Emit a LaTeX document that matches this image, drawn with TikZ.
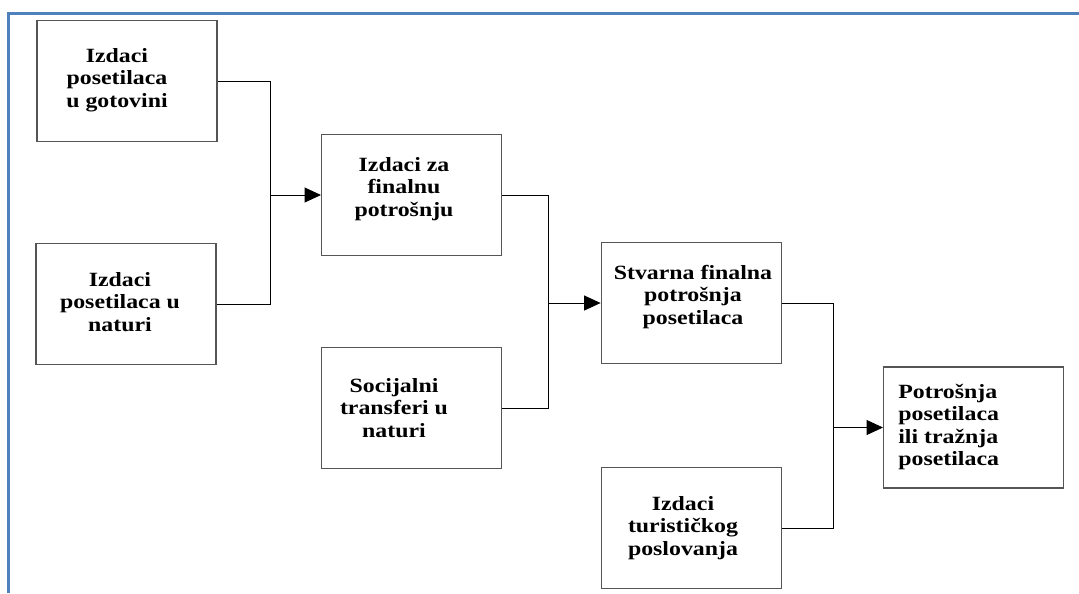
\documentclass[tikz,border=0pt]{standalone}
\usepackage{fontspec}
\setmainfont{Liberation Serif}[FakeStretch=1.18]
\usepackage{xcolor}
\usetikzlibrary{arrows.meta}

\definecolor{frameblue}{RGB}{79,129,189}
\definecolor{boxgray}{RGB}{85,85,85}

\begin{document}
\begin{tikzpicture}[x=0.02cm, y=-0.02cm,
    box/.style={draw=boxgray, line width=0.8pt, minimum width=3.6cm, minimum height=2.42cm, inner sep=0pt},
    txt/.style={font=\fontsize{11.5}{12.8}\selectfont\bfseries, align=center, inner sep=0pt},
    link/.style={line width=0.55pt},
    ]
    \useasboundingbox (0,0) rectangle (1079,593);
    % plava ivica
    \draw[frameblue, line width=1.7pt] (8.7,593) -- (8.7,13.5) -- (1079,13.5);

    % kutije
    \node[box] (gotov)  at (127,81)    {};
    \node[box] (natur)  at (126,304)   {};
    \node[box] (final)  at (411.7,195) {};
    \node[box] (socij)  at (411.3,408) {};
    \node[box] (stvar)  at (691.3,303) {};
    \node[box] (turist) at (691.3,528) {};
    \node[box] (potr)   at (973.7,427.5) {};

    % tekstovi
    \node[txt] (gotovT)  at (117,80)  {Izdaci\\posetilaca\\u gotovini};
    \node[txt] (naturT)  at (120,302) {Izdaci\\posetilaca u\\naturi};
    \node[txt] (finalT)  at (404,189) {Izdaci za\\finalnu\\potrošnju};
    \node[txt] (socijT)  at (394,408) {Socijalni\\transferi u\\naturi};
    \node[txt] (stvarT)  at (693,297) {Stvarna finalna\\potrošnja\\posetilaca};
    \node[txt] (turistT) at (683,528) {Izdaci\\turističkog\\poslovanja};
    \node[txt, align=left, anchor=west] (potrT) at (898,427) {Potrošnja\\posetilaca\\ili tražnja\\posetilaca};

    % spojnice
    \foreach \a/\b/\c/\x in {gotov/natur/final/270, final/socij/stvar/548, stvar/turist/potr/833}{
        \coordinate (j\c) at (\x,0);
        \draw[link] (\a.east) -- (\a.east -| j\c) -- (\b.east -| j\c) -- (\b.east);
        \draw[link, -{Triangle[length=0.33cm, width=0.3cm]}] (\c.west -| j\c) -- (\c.west);
    }
\end{tikzpicture}
\end{document}
